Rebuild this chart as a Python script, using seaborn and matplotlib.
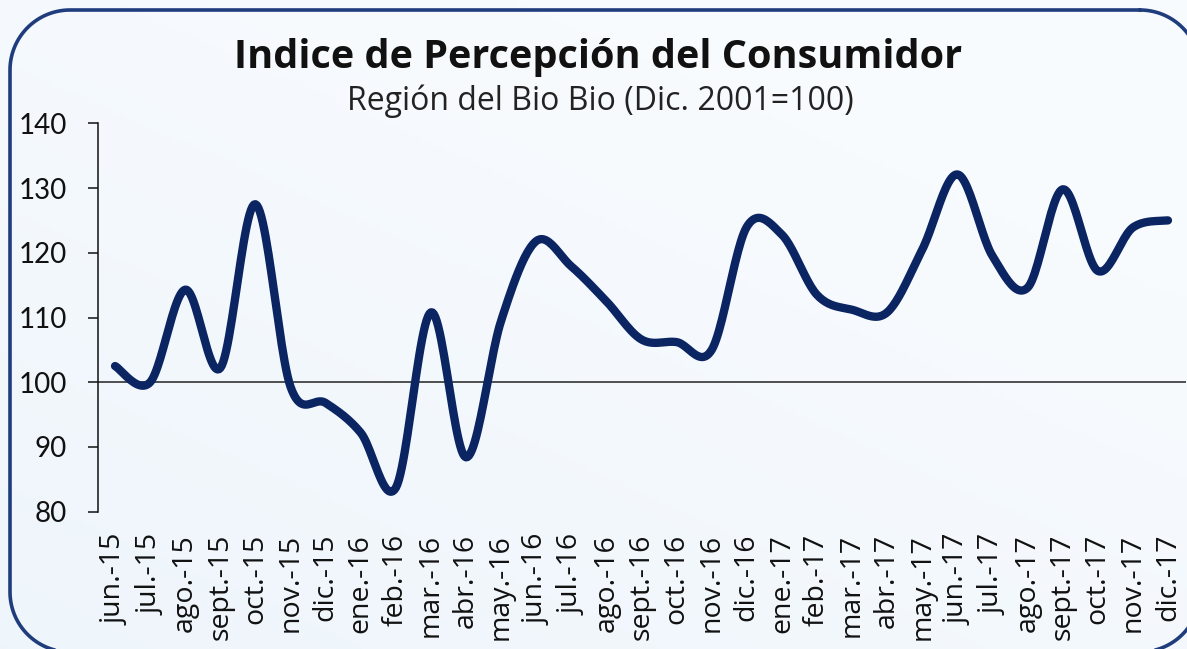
import numpy as np
import pandas as pd
import matplotlib
matplotlib.use('Agg')
import matplotlib.pyplot as plt
import seaborn as sns

sns.set_style('white')
plt.rcParams['font.family'] = ['Lato', 'DejaVu Sans']

# datos
meses = ['jun.-15', 'jul.-15', 'ago.-15', 'sept.-15', 'oct.-15', 'nov.-15', 'dic.-15',
         'ene.-16', 'feb.-16', 'mar.-16', 'abr.-16', 'may.-16', 'jun.-16', 'jul.-16',
         'ago.-16', 'sept.-16', 'oct.-16', 'nov.-16', 'dic.-16', 'ene.-17', 'feb.-17',
         'mar.-17', 'abr.-17', 'may.-17', 'jun.-17', 'jul.-17', 'ago.-17', 'sept.-17',
         'oct.-17', 'nov.-17', 'dic.-17']
icc = [102.5, 100.0, 114.3, 102.2, 127.5, 99.3, 96.8, 92.2, 83.7, 110.8, 88.4,
       109.5, 121.8, 117.9, 112.5, 106.6, 106.2, 105.0, 124.0, 122.8, 113.5,
       111.2, 110.8, 120.5, 132.1, 119.5, 114.6, 129.8, 117.2, 123.9, 125.0]

titulo = 'Indice de Percepción del Consumidor'
subtitulo = 'Región del Bio Bio (Dic. 2001=100)'


def suavizar(y, n=24):
    # linea suavizada tipo Excel (bezier con tangentes catmull-rom)
    p = np.column_stack([np.arange(len(y)), y]).astype(float)
    ext = np.vstack([p[0], p, p[-1]])
    t = np.linspace(0, 1, n, endpoint=False)[:, None]
    tramos = []
    for i in range(len(p) - 1):
        p0, p1, p2, p3 = ext[i], ext[i + 1], ext[i + 2], ext[i + 3]
        c1 = p1 + (p2 - p0) / 6
        c2 = p2 - (p3 - p1) / 6
        tramos.append((1 - t) ** 3 * p1 + 3 * (1 - t) ** 2 * t * c1
                      + 3 * (1 - t) * t ** 2 * c2 + t ** 3 * p2)
    tramos.append(p[-1:])
    return pd.DataFrame(np.vstack(tramos), columns=['x', 'y'])


def rect_redondeado(x0, y0, x1, y1, r, n=30):
    # contorno en pixeles (y hacia abajo), como polilinea
    esquinas = [(x1 - r, y0 + r, -90), (x1 - r, y1 - r, 0), (x0 + r, y1 - r, 90), (x0 + r, y0 + r, 180)]
    xs, ys = [], []
    for cx, cy, a0 in esquinas:
        a = np.radians(np.linspace(a0, a0 + 90, n))
        xs.extend(cx + r * np.cos(a))
        ys.extend(cy + r * np.sin(a))
    xs.append(xs[0])
    ys.append(ys[0])
    return xs, ys


W, H = 1187, 649
fig = plt.figure(figsize=(W / 100, H / 100), dpi=100, facecolor='#f3f8fc')

# fondo: ejes a pantalla completa en pixeles (y hacia abajo)
fondo = fig.add_axes([0, 0, 1, 1], zorder=-1)
fondo.set_xlim(0, W)
fondo.set_ylim(H, 0)
fondo.axis('off')
gx, gy = np.meshgrid(np.linspace(0, 1, 200), np.linspace(0, 1, 120))
grad = np.clip(0.55 * gy + 0.45 * (1 - gx) - 0.25, 0, 1)
fondo.imshow(grad, extent=(0, W, H, 0), cmap=sns.blend_palette(['#f8fbfe', '#ebf3fa'], as_cmap=True),
             aspect='auto', vmin=0, vmax=1)
bx, by = rect_redondeado(10, 10, 1200, 652, 60)
fondo.plot(bx, by, color='#1f3c7d', linewidth=2.6, solid_joinstyle='round')

ax = fig.add_axes([97.5 / W, 1 - 511.7 / H, (1185.5 - 97.5) / W, (511.7 - 123.3) / H])
ax.set_facecolor('none')

sns.lineplot(data=suavizar(icc), x='x', y='y', sort=False, color='#0b2462',
             linewidth=6, solid_capstyle='round', ax=ax)
ax.axhline(100, color='#222222', linewidth=1.1, zorder=1)

ax.set_xlim(-0.5, len(meses) - 0.5)
ax.set_ylim(80, 140)
ax.set_yticks(range(80, 141, 10))
ax.set_xticks(range(len(meses)))
ax.set_xticklabels(meses, rotation=90, fontsize=20.5, family=['Open Sans', 'DejaVu Sans'],
                   color='#111111')
ax.tick_params(axis='y', direction='out', length=7, width=1.1, labelsize=20,
               colors='#111111', pad=15, left=True)
ax.tick_params(axis='x', length=0, pad=16)
ax.set_xlabel('')
ax.set_ylabel('')
sns.despine(ax=ax, bottom=True)
ax.spines['left'].set_color('#111111')
ax.spines['left'].set_linewidth(1.1)

fig.text(598 / W, 1 - 68 / H, titulo, ha='center', va='baseline', fontsize=28.5,
         fontweight='bold', color='#111111', family=['Open Sans', 'DejaVu Sans'])
fig.text(600 / W, 1 - 110 / H, subtitulo, ha='center', va='baseline', fontsize=23,
         color='#222222', family=['Open Sans', 'DejaVu Sans'])

fig.savefig('out.png', dpi=100, facecolor=fig.get_facecolor())
